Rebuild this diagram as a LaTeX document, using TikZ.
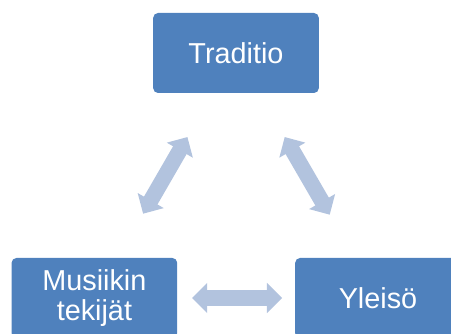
\documentclass[tikz,border=0pt]{standalone}
\usepackage{fontspec}
\setmainfont{Liberation Sans}
\usetikzlibrary{arrows.meta,calc}
\definecolor{boxblue}{HTML}{4F81BD}
\definecolor{linkblue}{RGB}{178,195,222}
\begin{document}
\begin{tikzpicture}[
  box/.style={fill=boxblue, rounded corners=0.12cm, minimum width=4.14cm,
    minimum height=2.0cm, text=white, align=center,
    font=\fontsize{20.5}{21.5}\selectfont},
  link/.style={draw=linkblue, line width=0.39cm,
    {Triangle[width=0.73cm,length=0.38cm]}-{Triangle[width=0.73cm,length=0.38cm]}}
]
\useasboundingbox (0,0) rectangle (11.275,-8.35);

\node[box] (tr) at (5.9,-1.325) {Traditio};
\node[box] (mt) at (2.36,-7.45) {Musiikin\\tekijät};
\node[box] (yl) at (9.45,-7.45) {Yleisö};

\draw[link] ($(mt)!0.344!(tr)$) -- ($(mt)!0.657!(tr)$);
\draw[link] ($(tr)!0.343!(yl)$) -- ($(tr)!0.66!(yl)$);
\draw[link] ($(mt)!0.344!(yl)$) -- ($(mt)!0.662!(yl)$);
\end{tikzpicture}
\end{document}
